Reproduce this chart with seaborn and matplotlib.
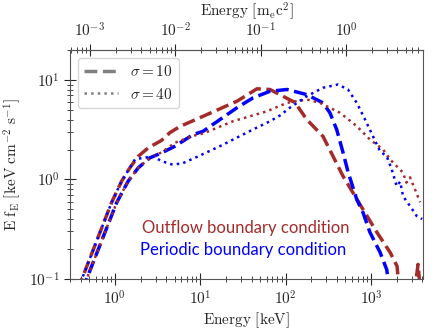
import numpy as np
import pandas as pd
import matplotlib
matplotlib.use('Agg')
import matplotlib.pyplot as plt
from matplotlib.lines import Line2D
from matplotlib.ticker import FuncFormatter, LogLocator
import seaborn as sns

# outflow boundary, sigma = 10 (dashed)
e_out10 = [0.35, 0.41, 0.914, 1.2, 1.50, 1.88, 2.46, 3.52, 4.42, 5.78, 10.8, 26.9, 41.5, 46.2, 65.6,
           129, 177, 274, 360, 471, 807, 1178, 1675, 2023, 2190, 3160, 3565, 3865]
f_out10 = [0.05, 0.099, 0.584, 0.96, 1.31, 1.71, 2.08, 2.47, 2.96, 3.41, 4.32, 6.12, 7.71, 8.17, 8.04,
           5.94, 4.01, 2.72, 1.71, 1.08, 0.50, 0.293, 0.185, 0.134, 0.063, 0.063, 0.14, 0.063]

# periodic boundary, sigma = 10 (dashed)
e_per10 = [0.40, 0.466, 1.05, 1.43, 1.88, 2.57, 3.52, 5.05, 8.28, 10.8, 26.9, 41.5, 65.6, 104, 177,
           274, 331, 397, 471, 538, 682, 807, 975, 1279, 1531, 1585, 1650]
f_per10 = [0.05, 0.099, 0.584, 0.96, 1.31, 1.65, 1.85, 2.16, 2.83, 3.05, 5.26, 6.62, 7.71, 8.04, 7.14,
           5.90, 4.68, 3.18, 1.87, 1.20, 0.63, 0.466, 0.293, 0.185, 0.124, 0.099, 0.05]

# outflow boundary, sigma = 40 (dotted)
e_out40 = [0.40, 0.466, 1.05, 1.43, 1.88, 2.57, 3.52, 5.05, 8.3, 10.8, 24.2, 60.5, 104, 178, 253,
           435, 682, 975, 1387, 1675, 2377, 2600, 2870, 3290, 3770]
f_out40 = [0.05, 0.099, 0.584, 0.96, 1.31, 1.65, 1.87, 2.34, 2.75, 2.9, 3.85, 4.85, 5.90, 6.37, 5.90,
           4.68, 3.44, 2.52, 2.0, 1.59, 1.17, 0.93, 1.05, 0.79, 0.59]

# periodic boundary, sigma = 40 (dotted)
e_per40 = [0.35, 0.41, 0.914, 1.2, 1.50, 1.72, 2.15, 2.81, 3.52, 4.62, 6.05, 8.67, 17.0, 41.5, 65.6,
           86, 113, 177, 274, 411, 538, 682, 853, 1057, 1279, 1531, 1754, 2004, 2200, 2377, 2871,
           3443, 3981]
f_per40 = [0.05, 0.099, 0.584, 0.96, 1.31, 1.59, 1.65, 1.71, 1.53, 1.42, 1.44, 1.65, 2.16, 3.18, 3.85,
           4.40, 5.29, 6.87, 8.36, 9.02, 8.04, 5.90, 4.01, 2.72, 1.92, 1.71, 1.26, 0.857, 0.95, 0.679,
           0.54, 0.428, 0.40]

top_ticks = [1e-3, 1e-2, 1e-1, 1e0]

brown = '#a52a2a'
blue = '#0000ff'

sns.set_style('ticks')
plt.rcParams['mathtext.fontset'] = 'cm'
plt.rcParams['font.family'] = ['DejaVu Sans']
plt.rcParams['axes.edgecolor'] = '#555555'
plt.rcParams['xtick.direction'] = 'inout'
plt.rcParams['ytick.direction'] = 'inout'

fig = plt.figure(figsize=(4.36, 3.32), dpi=100)
ax = fig.add_axes([0.161, 0.160, 0.8085, 0.689])

series = [(e_out10, f_out10, brown, '--', 2.5),
          (e_per10, f_per10, blue, '--', 2.5),
          (e_out40, f_out40, brown, ':', 1.8),
          (e_per40, f_per40, blue, ':', 1.8)]
for e, f, c, ls, lw in series:
    df = pd.DataFrame({'E': e, 'f': f})
    sns.lineplot(data=df, x='E', y='f', color=c, ls=ls, lw=lw, ax=ax,
                 estimator=None, sort=False, legend=False)

pow10 = FuncFormatter(lambda v, p: r'$10^{%d}$' % int(round(np.log10(v))))

ax.set_xscale('log')
ax.set_yscale('log')
ax.set_xlim(0.3, 4040)
ax.set_ylim(0.1, 20)
ax.xaxis.set_major_formatter(pow10)
ax.yaxis.set_major_formatter(pow10)
ax.tick_params(which='major', length=8, labelsize=11, width=0.8)
ax.tick_params(which='minor', length=4, width=0.6)
ax.set_xlabel(r'$\mathrm{Energy\ [keV]}$', fontsize=11, labelpad=2)
ax.set_ylabel(r'$\mathrm{E\ f_E\ [keV\ cm^{-2}\ s^{-1}]}$', fontsize=11, labelpad=4)

top = ax.secondary_xaxis('top', functions=(lambda x: x / 511.0, lambda x: x * 511.0))
top.set_xticks(top_ticks)
top.xaxis.set_minor_locator(LogLocator(base=10, subs=np.arange(2, 10), numticks=20))
top.xaxis.set_major_formatter(pow10)
top.tick_params(which='major', length=8, labelsize=11, width=0.8, direction='inout')
top.tick_params(which='minor', length=4, width=0.6, direction='inout')
top.set_xlabel(r'$\mathrm{Energy\ [m_e c^2]}$', fontsize=11, labelpad=4)

handles = [Line2D([], [], color='#808080', ls='--', lw=2.5),
           Line2D([], [], color='#808080', ls=':', lw=1.8)]
ax.legend(handles, [r'$\sigma = 10$', r'$\sigma = 40$'], loc='upper left',
          fontsize=11, handlelength=2.2, borderaxespad=0.5)

ax.text(0.204, 0.223, 'Outflow boundary condition', transform=ax.transAxes,
        color=brown, fontsize=12, family=['Lato', 'DejaVu Sans'], va='center')
ax.text(0.198, 0.127, 'Periodic boundary condition', transform=ax.transAxes,
        color=blue, fontsize=12, family=['Lato', 'DejaVu Sans'], va='center')

fig.savefig('out.png', dpi=100)
